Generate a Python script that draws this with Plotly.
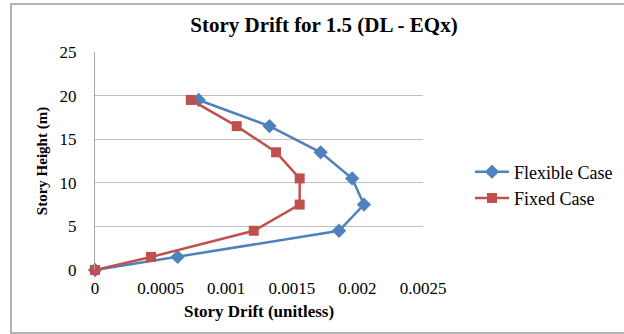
import plotly.graph_objects as go

heights = [0, 1.5, 4.5, 7.5, 10.5, 13.5, 16.5, 19.5]
flexible_drift = [0, 0.00063, 0.00186, 0.00205, 0.00196, 0.00172, 0.00133, 0.00079]
fixed_drift = [0, 0.000427, 0.00121, 0.00156, 0.00156, 0.00138, 0.00108, 0.00073]
x_tick_vals = [0, 0.0005, 0.001, 0.0015, 0.002, 0.0025]
x_tick_text = ["0", "0.0005", "0.001", "0.0015", "0.002", "0.0025"]
y_tick_vals = [0, 5, 10, 15, 20, 25]

serif = "Liberation Serif"

fig = go.Figure()
fig.add_trace(go.Scatter(
    x=flexible_drift, y=heights, name="Flexible Case", mode="lines+markers",
    line=dict(color="#4F81BD", width=2.5), cliponaxis=False,
    marker=dict(symbol="diamond", size=11, color="#4F81BD"),
))
fig.add_trace(go.Scatter(
    x=fixed_drift, y=heights, name="Fixed Case", mode="lines+markers",
    line=dict(color="#C0504D", width=2.5), cliponaxis=False,
    marker=dict(symbol="square", size=10, color="#C0504D"),
))

W, H = 624, 334
L, R, T, B = 95, 423, 52, 270
pw, ph = R - L, B - T

def px(x):
    return (x - L) / pw

def py(y):
    return (B - y) / ph

fig.update_layout(
    width=W, height=H,
    margin=dict(l=L, r=W - R, t=T, b=H - B, autoexpand=False),
    paper_bgcolor="white", plot_bgcolor="white",
    font=dict(family=serif, size=16, color="black"),
    title=dict(text="<b>Story Drift for 1.5 (DL - EQx)</b>", x=324 / W, xanchor="center",
               y=1 - 25 / H, yanchor="middle", font=dict(family=serif, size=21, color="black")),
    showlegend=True,
    legend=dict(x=px(470), y=py(185), xanchor="left", yanchor="middle",
                font=dict(family=serif, size=18, color="black"),
                bgcolor="rgba(0,0,0,0)", itemwidth=34, tracegroupgap=1),
    xaxis=dict(range=[0, 0.0025], tickvals=x_tick_vals, ticktext=x_tick_text,
               showgrid=False, zeroline=False, showline=False, automargin=False,
               ticks="", ticklabelstandoff=6, tickfont=dict(family=serif, size=17, color="black"),
               title=dict(text="<b>Story Drift (unitless)</b>", standoff=8,
                          font=dict(family=serif, size=17))),
    yaxis=dict(range=[0, 25], tickvals=y_tick_vals, showgrid=True, gridcolor="#BFBFBF",
               gridwidth=1, zeroline=False, showline=True, linecolor="#A6A6A6", linewidth=1,
               automargin=False, ticks="", ticklen=0, ticklabelstandoff=14,
               tickfont=dict(family=serif, size=17, color="black"),
               title=dict(text="<b>Story Height (m)</b>", standoff=8,
                          font=dict(family=serif, size=15))),
)

fig.add_shape(type="rect", xref="paper", yref="paper",
              x0=px(11), x1=px(640), y0=py(333), y1=py(4),
              line=dict(color="#9A9A9A", width=1.5), layer="below")

fig.write_html("out.html", config={"displayModeBar": False},
               post_script="document.body.style.margin='0';")
